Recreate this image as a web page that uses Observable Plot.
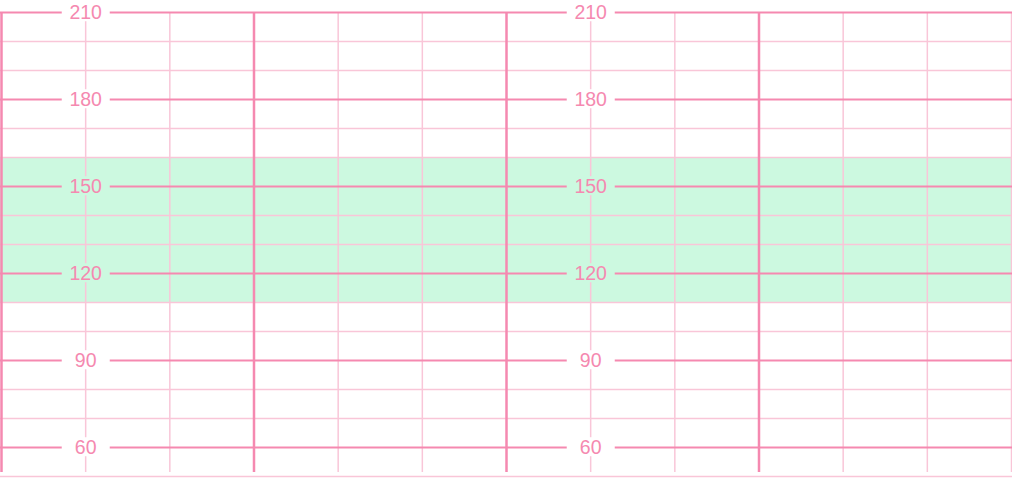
<!DOCTYPE html>
<html>
<head>
<meta charset="utf-8">
<script src="https://cdn.jsdelivr.net/npm/d3@7"></script>
<script src="https://cdn.jsdelivr.net/npm/@observablehq/plot@0.6"></script>
<style>
  html, body { margin: 0; padding: 0; background: #fff; }
  svg { display: block; }
</style>
</head>
<body>
<script>
// Time axis (minutes) and heart-rate axis (bpm)
const majorMinutes = [0, 3, 6, 9];
const minorMinutes = [1, 2, 4, 5, 7, 8, 10, 11, 12];
const majorBpm = [60, 90, 120, 150, 180, 210];
const minorBpm = [50, 70, 80, 100, 110, 130, 140, 160, 170, 190, 200];
const labelMinutes = [1, 7];
const bandLow = [110];
const bandHigh = [160];

const band = bandLow.map((lo, i) => ({lo, hi: bandHigh[i]}));
const labels = labelMinutes.flatMap(t => majorBpm.map(v => ({t, v})));

const MAJOR = "#f589b0";
const MINOR = "#f9c6d8";
const BAND = "#ccf9e0";

const chart = Plot.plot({
  width: 1012,
  height: 492,
  marginTop: 12,
  marginBottom: 16,
  marginLeft: 0,
  marginRight: 0,
  x: {domain: [0, 12], range: [1, 1011], axis: null},
  y: {domain: [50, 210], axis: null},
  style: {background: "#fff", fontFamily: "Liberation Sans, Arial, sans-serif"},
  marks: [
    Plot.rect(band, {y1: "lo", y2: "hi", fill: BAND}),
    Plot.ruleY(minorBpm, {stroke: MINOR, strokeWidth: 1.5}),
    Plot.ruleX(minorMinutes, {stroke: MINOR, strokeWidth: 1.5, insetBottom: 4}),
    Plot.ruleY(majorBpm, {stroke: MAJOR, strokeWidth: 2}),
    Plot.ruleX(majorMinutes, {stroke: MAJOR, strokeWidth: 2.5, insetBottom: 4}),
    Plot.text(labels, {x: "t", y: "v", text: d => String(d.v), fill: MAJOR, fontSize: 19.5})
  ]
});

document.body.appendChild(chart);

// Put a fixed-size background box behind each label so the grid lines break around it
const groups = chart.querySelectorAll('g[aria-label="text"]');
const ns = "http://www.w3.org/2000/svg";
const BOX_W = 48, BOX_H = 19;
groups.forEach(g => {
  const texts = Array.from(g.querySelectorAll("text"));
  texts.forEach(t => {
    const bb = t.getBBox();
    const v = parseFloat(t.textContent);
    const inBand = band.some(b => v >= b.lo && v <= b.hi);
    const cx = bb.x + bb.width / 2;
    const cy = bb.y + bb.height / 2;
    const r = document.createElementNS(ns, "rect");
    r.setAttribute("x", cx - BOX_W / 2);
    r.setAttribute("y", cy - BOX_H / 2);
    r.setAttribute("width", BOX_W);
    r.setAttribute("height", BOX_H);
    r.setAttribute("fill", inBand ? BAND : "#fff");
    const tr = t.getAttribute("transform");
    if (tr) r.setAttribute("transform", tr);
    g.insertBefore(r, t);
  });
});
</script>
</body>
</html>
